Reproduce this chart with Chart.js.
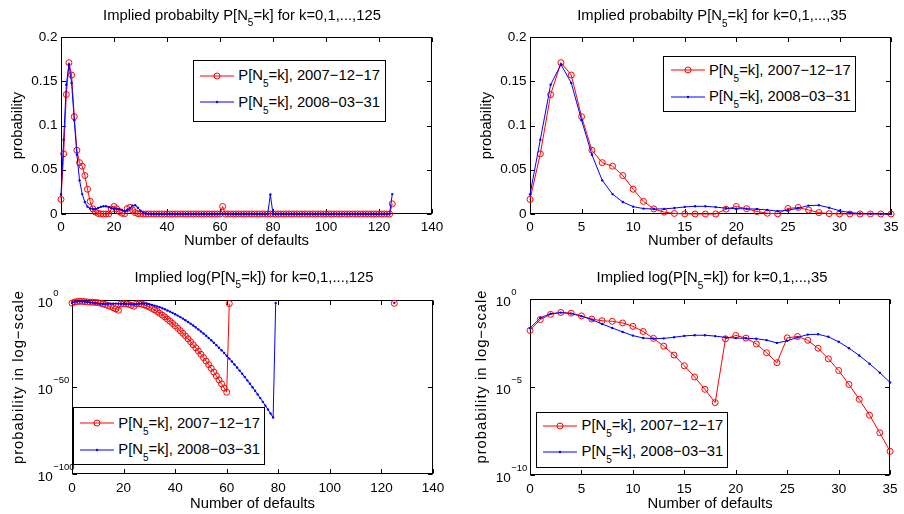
<!DOCTYPE html>
<html><head><meta charset="utf-8">
<script src="https://cdn.jsdelivr.net/npm/chart.js@4.4.1/dist/chart.umd.min.js"></script>
<style>
html,body{margin:0;padding:0;background:#fff;}
#wrap{position:relative;width:904px;height:514px;overflow:hidden;font-family:'Liberation Sans',Arial,Helvetica,sans-serif;color:#000;}
canvas{position:absolute;left:0;top:0;}
.ttl{position:absolute;width:440px;text-align:center;font-size:14.8px;line-height:17px;white-space:nowrap;}
.sub{position:relative;top:6.5px;font-size:10px;line-height:0;}
.lsub{position:relative;top:7px;font-size:10px;line-height:0;}
.leg{position:absolute;border:1px solid #000;background:#fff;box-sizing:border-box;}
.row{position:absolute;left:0;height:17px;width:100%;white-space:nowrap;font-size:14.8px;line-height:17px;}
.row svg{position:absolute;left:6.3px;top:3.5px;}
.row .t{position:absolute;left:44.6px;top:0;}
</style></head>
<body>
<div id="wrap">
<canvas id="cTL" width="904" height="514"></canvas>
<canvas id="cTR" width="904" height="514"></canvas>
<canvas id="cBL" width="904" height="514"></canvas>
<canvas id="cBR" width="904" height="514"></canvas>
</div>
<script>
// ---------------- data ----------------
const kAll = [...Array(126).keys()];           // number of defaults k = 0..125
const seriesDates = ['2007\u221212\u221217', '2008\u221203\u221231'];

// P[N5=k], 2007-12-17
const red2007 = [
  0.0165, 0.068, 0.135, 0.171, 0.157, 0.110, 0.072, 0.058, 0.054, 0.0435,
  0.028, 0.0143, 0.0058, 0.0021, 6.5e-4, 1.6e-4, 3.7e-5, 7.4e-6, 1.3e-6, 0.0055,
  0.0085, 0.0060, 0.0028, 8.8e-4, 2.4e-4, 0.0062, 0.0074, 0.0045, 0.0016, 4.0e-4,
  8.7e-5, 1.4e-5, 2.0e-6, 2.5e-7, 2.5e-8, 2.2e-9, 1.7e-10, 1.1e-11, 6.6e-13, 3.4e-14,
  1.6e-15, 6.3e-17, 2.3e-18, 7.2e-20, 2.0e-21, 4.9e-23, 1.0e-24, 2.0e-26, 3.4e-28, 5.0e-30,
  6.6e-32, 7.6e-34, 7.8e-36, 6.9e-38, 5.5e-40, 3.9e-42, 2.4e-44, 1.3e-46, 6.2e-49, 2.6e-51,
  9.8e-54, 0.0085, 0, 0, 0, 0, 0, 0, 0, 0,
  0, 0, 0, 0, 0, 0, 0, 0, 0, 0,
  0, 0, 0, 0, 0, 0, 0, 0, 0, 0,
  0, 0, 0, 0, 0, 0, 0, 0, 0, 0,
  0, 0, 0, 0, 0, 0, 0, 0, 0, 0,
  0, 0, 0, 0, 0, 0, 0, 0, 0, 0,
  0, 0, 0, 0, 0, 0.0115
];

// P[N5=k], 2008-03-31
const blue2008 = [
  0.022, 0.084, 0.146, 0.169, 0.148, 0.106, 0.067, 0.038, 0.0225, 0.0135,
  0.0083, 0.0061, 0.0056, 0.0058, 0.0067, 0.0080, 0.0087, 0.0087, 0.0078, 0.0066,
  0.0060, 0.0059, 0.0055, 0.0046, 0.0032, 0.0042, 0.0066, 0.0095, 0.0099, 0.0071,
  0.0037, 0.0016, 6.2e-4, 2.1e-4, 6.5e-5, 1.8e-5, 4.5e-6, 1.0e-6, 2.1e-7, 4.0e-8,
  6.9e-9, 1.1e-9, 1.5e-10, 2.0e-11, 2.4e-12, 2.5e-13, 2.5e-14, 2.2e-15, 1.8e-16, 1.3e-17,
  8.8e-19, 5.4e-20, 3.0e-21, 1.5e-22, 6.9e-24, 2.9e-25, 1.1e-26, 3.8e-28, 1.2e-29, 3.4e-31,
  8.9e-33, 2.1e-34, 4.6e-36, 8.9e-38, 1.6e-39, 2.6e-41, 3.8e-43, 5.2e-45, 6.3e-47, 7.1e-49,
  7.2e-51, 6.6e-53, 5.5e-55, 4.2e-57, 2.9e-59, 1.9e-61, 1.1e-63, 5.6e-66, 2.7e-68, 0.022,
  0, 0, 0, 0, 0, 0, 0, 0, 0, 0,
  0, 0, 0, 0, 0, 0, 0, 0, 0, 0,
  0, 0, 0, 0, 0, 0, 0, 0, 0, 0,
  0, 0, 0, 0, 0, 0, 0, 0, 0, 0,
  0, 0, 0, 0, 0, 0.0225
];

// tick values / labels
const xTicksFull = [0, 20, 40, 60, 80, 100, 120, 140];
const xTicksZoom = [0, 5, 10, 15, 20, 25, 30, 35];
const yTicksLin = [0, 0.05, 0.1, 0.15, 0.2];
const yTickLabelsLin = ['0', '0.05', '0.1', '0.15', '0.2'];
const yTicksLogFull = [1e-100, 1e-50, 1];
const yTicksLogZoom = [1e-10, 1e-5, 1];

// ---------------- styling ----------------
const FONT = "'Liberation Sans', Arial, Helvetica, sans-serif";
Chart.defaults.font.family = FONT;
Chart.defaults.color = '#000';
const TICK_FS = 13.5, LABEL_FS = 14.8;

const matlabAxes = {
  id: 'matlabAxes',
  beforeDatasetsDraw(chart) {
    const {ctx, chartArea: a, scales} = chart;
    ctx.save();
    ctx.strokeStyle = '#000'; ctx.lineWidth = 1;
    const L = Math.round(a.left) + 0.5, R = Math.round(a.right) - 0.5;
    const T = Math.round(a.top) + 0.5, B = Math.round(a.bottom) - 0.5;
    ctx.strokeRect(L, T, R - L, B - T);
    const tl = 4.5;
    ctx.beginPath();
    scales.x.ticks.forEach(t => {
      const px = Math.round(scales.x.getPixelForValue(t.value)) + 0.5;
      ctx.moveTo(px, B); ctx.lineTo(px, B - tl);
      ctx.moveTo(px, T); ctx.lineTo(px, T + tl);
    });
    scales.y.ticks.forEach(t => {
      const py = Math.round(scales.y.getPixelForValue(t.value)) + 0.5;
      ctx.moveTo(L, py); ctx.lineTo(L + tl, py);
      ctx.moveTo(R, py); ctx.lineTo(R - tl, py);
    });
    ctx.stroke();
    ctx.restore();
  },
  afterDraw(chart, args, opts) {
    const y = chart.scales.y;
    if (y.type !== 'logarithmic') return;
    const ctx = chart.ctx, a = chart.chartArea;
    ctx.save();
    ctx.fillStyle = '#000';
    y.ticks.forEach(t => {
      const py = y.getPixelForValue(t.value);
      const e = Math.round(Math.log10(t.value));
      const bx = a.left - 19.3;
      ctx.font = TICK_FS + 'px ' + FONT;
      ctx.textAlign = 'right'; ctx.textBaseline = 'middle';
      ctx.fillText('10', bx, py + 3);
      ctx.font = '9.5px ' + FONT;
      ctx.textAlign = 'left';
      ctx.fillText(String(e).replace('-', '\u2212'), bx + 0.5, py - 6.5);
    });
    if (opts && opts.yTitle) {
      ctx.translate(opts.yTitleX, opts.yTitleY);
      ctx.rotate(-Math.PI / 2);
      ctx.font = LABEL_FS + 'px ' + FONT;
      ctx.textAlign = 'center'; ctx.textBaseline = 'middle';
      try { ctx.letterSpacing = '1px'; } catch (err) {}
      ctx.fillText(opts.yTitle, 0, 0);
    }
    ctx.restore();
  }
};

function makeChart(id, c) {
  const half = LABEL_FS * 1.2 / 2;
  const scaleLeft = c.yTitleX - half;
  const scaleBottom = c.xTitleY + half;
  const n = c.kMax + 1;
  const isLog = c.yType === 'logarithmic';
  const mk = vals => kAll.slice(0, n).map((k, i) => ({x: k, y: (isLog && !(vals[i] > 0)) ? null : vals[i]}));
  return new Chart(document.getElementById(id), {
    type: 'line',
    data: {datasets: [
      {label: 'P[N5=k], ' + seriesDates[0], data: mk(red2007), order: 1,
       borderColor: '#ff0000', borderWidth: 1, fill: false, tension: 0, spanGaps: false, clip: false,
       pointStyle: 'circle', pointRadius: 3, pointBorderWidth: 1,
       pointBorderColor: '#ff0000', pointBackgroundColor: 'rgba(0,0,0,0)'},
      {label: 'P[N5=k], ' + seriesDates[1], data: mk(blue2008), order: 0,
       borderColor: '#0000ff', borderWidth: 1, fill: false, tension: 0, spanGaps: false, clip: false,
       pointStyle: 'circle', pointRadius: 1.2, pointBorderWidth: 0,
       pointBorderColor: '#0000ff', pointBackgroundColor: '#0000ff'}
    ]},
    options: {
      responsive: false, animation: false, events: [],
      layout: {padding: {left: scaleLeft, top: c.area.top, right: 904 - c.area.right, bottom: 514 - scaleBottom}},
      plugins: {legend: {display: false}, tooltip: {enabled: false}, title: {display: false},
        matlabAxes: isLog ? {yTitle: c.yTitle, yTitleX: c.yTitleX, yTitleY: c.yTitleY} : {}},
      scales: {
        x: {type: 'linear', position: 'bottom', min: 0, max: c.xMax,
          afterBuildTicks: s => { s.ticks = c.xTicks.map(v => ({value: v})); },
          afterFit: s => { s.height = scaleBottom - c.area.bottom; },
          grid: {display: false, drawTicks: false}, border: {display: false},
          ticks: {font: {size: TICK_FS}, color: '#000', padding: c.xPad, maxRotation: 0, autoSkip: false,
                  callback: v => String(v)},
          title: {display: true, text: 'Number of defaults', font: {size: LABEL_FS}, color: '#000', padding: 0}},
        y: {type: c.yType, position: 'left', min: c.yMin, max: c.yMax,
          afterBuildTicks: s => { s.ticks = c.yTicks.map(v => ({value: v})); },
          afterFit: s => { s.width = c.area.left - scaleLeft; },
          grid: {display: false, drawTicks: false}, border: {display: false},
          ticks: {display: !isLog, font: {size: TICK_FS}, color: '#000', padding: 3.5, autoSkip: false,
                  callback: (v, i) => yTickLabelsLin[i]},
          title: {display: !isLog, text: c.yTitle, font: {size: LABEL_FS}, color: '#000', padding: 0}}
      }
    },
    plugins: [matlabAxes]
  });
}

makeChart('cTL', {area: {left: 61, right: 432, top: 37, bottom: 214}, yTitleX: 17.6, xTitleY: 240.5,
  xMax: 140, xTicks: xTicksFull, kMax: 125, yType: 'linear', yMin: 0, yMax: 0.2, yTicks: yTicksLin,
  xPad: 5.4, yTitle: 'probability'});
makeChart('cTR', {area: {left: 530, right: 893, top: 37, bottom: 214}, yTitleX: 487.4, xTitleY: 240.5,
  xMax: 35, xTicks: xTicksZoom, kMax: 35, yType: 'linear', yMin: 0, yMax: 0.2, yTicks: yTicksLin,
  xPad: 5.4, yTitle: 'probability'});
makeChart('cBL', {area: {left: 72, right: 433, top: 300, bottom: 474}, yTitleX: 19, yTitleY: 377, xTitleY: 503.5,
  xMax: 140, xTicks: xTicksFull, kMax: 125, yType: 'logarithmic', yMin: 1e-100, yMax: 1, yTicks: yTicksLogFull,
  xPad: 6, yTitle: 'probability in log\u2212scale'});
makeChart('cBR', {area: {left: 530, right: 893, top: 299, bottom: 475}, yTitleX: 482.4, yTitleY: 376.5, xTitleY: 503.5,
  xMax: 35, xTicks: xTicksZoom, kMax: 35, yType: 'logarithmic', yMin: 1e-10, yMax: 1, yTicks: yTicksLogZoom,
  xPad: 6.4, yTitle: 'probability in log\u2212scale'});

// ---------------- titles & legends (HTML text) ----------------
const wrap = document.getElementById('wrap');
const titles = [
  {cx: 242, cy: 14.8, html: 'Implied probabilty P[N<span class="sub">5</span>=k] for k=0,1,...,125'},
  {cx: 712, cy: 15.3, html: 'Implied probabilty P[N<span class="sub">5</span>=k] for k=0,1,...,35'},
  {cx: 254, cy: 277, html: 'Implied log(P[N<span class="sub">5</span>=k]) for k=0,1,...,125'},
  {cx: 712, cy: 277.6, html: 'Implied log(P[N<span class="sub">5</span>=k]) for k=0,1,...,35'}
];
titles.forEach(t => {
  const d = document.createElement('div');
  d.className = 'ttl';
  d.style.left = (t.cx - 220) + 'px';
  d.style.top = (t.cy - 8.3) + 'px';
  d.innerHTML = t.html;
  wrap.appendChild(d);
});

const legendBoxes = [
  {left: 192.7, top: 60, w: 193, h: 62, rows: [15.5, 42]},
  {left: 663.3, top: 56, w: 193, h: 56, rows: [14, 40.7]},
  {left: 72.7, top: 406.7, w: 192.3, h: 58.3, rows: [16.6, 43.3]},
  {left: 536, top: 411.7, w: 192.3, h: 56.6, rows: [14, 40]}
];
const samples = [
  '<svg width="34" height="10"><line x1="0" y1="5" x2="34" y2="5" stroke="#ff0000" stroke-width="1"/><circle cx="17" cy="5" r="3" fill="none" stroke="#ff0000" stroke-width="1"/></svg>',
  '<svg width="34" height="10"><line x1="0" y1="5" x2="34" y2="5" stroke="#0000ff" stroke-width="1"/><circle cx="17" cy="5" r="1.2" fill="#0000ff"/></svg>'
];
legendBoxes.forEach(b => {
  const d = document.createElement('div');
  d.className = 'leg';
  d.style.left = b.left + 'px'; d.style.top = b.top + 'px';
  d.style.width = b.w + 'px'; d.style.height = b.h + 'px';
  let h = '';
  b.rows.forEach((ry, i) => {
    h += '<div class="row" style="top:' + (ry - 1 - 8.5) + 'px">' + samples[i] +
         '<span class="t">P[N<span class="lsub">5</span>=k], ' + seriesDates[i] + '</span></div>';
  });
  d.innerHTML = h;
  wrap.appendChild(d);
});
</script>
</body></html>
